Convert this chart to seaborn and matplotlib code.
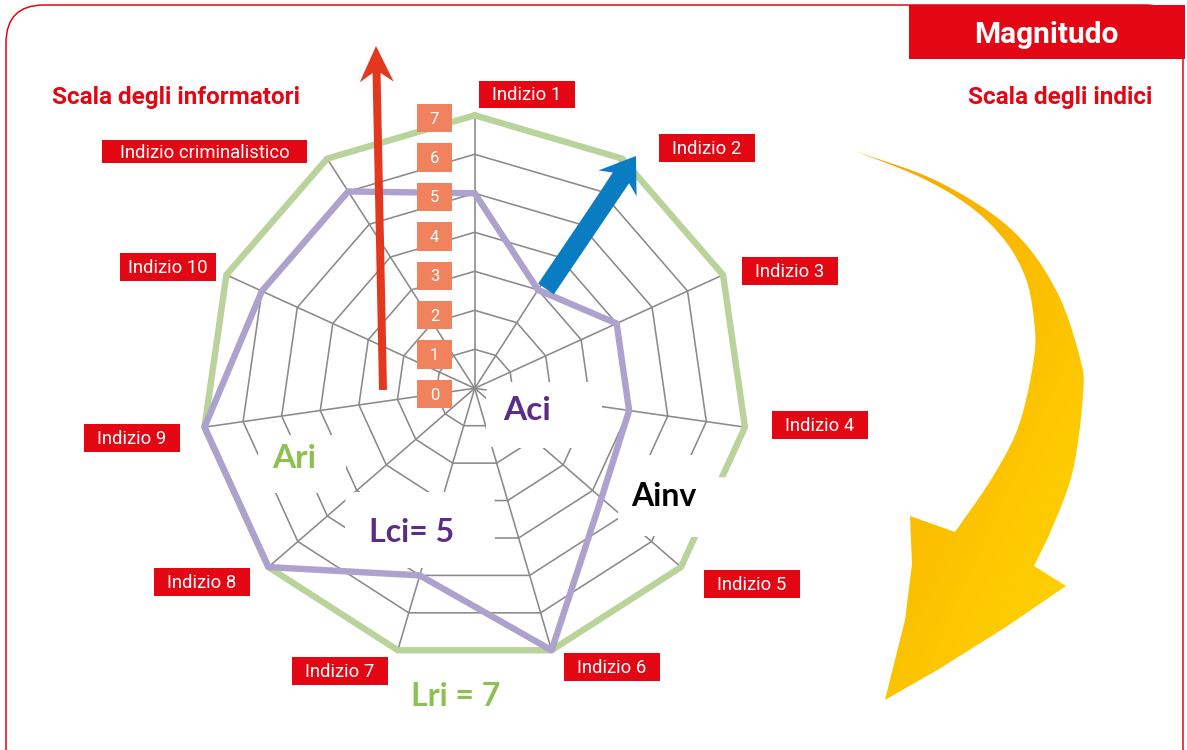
import numpy as np
import matplotlib
matplotlib.use("Agg")
import matplotlib.pyplot as plt
import matplotlib.transforms as mtransforms
from matplotlib.patches import Rectangle, FancyBboxPatch, FancyArrow, Polygon, PathPatch
from matplotlib.path import Path
import seaborn as sns

# ---------------- data ----------------
axes_labels = ["Indizio 1", "Indizio 2", "Indizio 3", "Indizio 4", "Indizio 5",
               "Indizio 6", "Indizio 7", "Indizio 8", "Indizio 9", "Indizio 10",
               "Indizio criminalistico"]
informatori = [5, 3, 4, 4, 4.3, 7, 5, 7, 7, 6, 6]      # purple polygon (Lci)
indici = [7, 7, 7, 7, 7, 7, 7, 7, 7, 7, 7]              # green polygon (Lri)
scale_ticks = [0, 1, 2, 3, 4, 5, 6, 7]
rmax = 7

# ---------------- layout ----------------
W, H = 1187, 750
CX, CY, R = 474.7, 388.3, 273.0

RED = "#E30613"
GREEN_LINE = "#B9D39B"
PURPLE_LINE = "#ADA2CD"
GRID = "#8A8A8A"
SALMON = "#F0825E"
PURPLE_TXT = "#5B2D84"
GREEN_TXT = "#8CC152"

sns.set_theme(style="white")
plt.rcParams["font.family"] = ["Roboto", "DejaVu Sans"]

fig = plt.figure(figsize=(W / 100, H / 100), dpi=100)
fig.patch.set_facecolor("white")

# pixel -> figure transform (y down)
pxT = mtransforms.Affine2D().scale(1 / W, -1 / H).translate(0, 1) + fig.transFigure

# ---------------- radar (polar axes) ----------------
axp = fig.add_axes([(CX - R) / W, 1 - (CY + R) / H, 2 * R / W, 2 * R / H], projection="polar")
axp.set_theta_zero_location("N")
axp.set_theta_direction(-1)
axp.axis("off")

n = len(axes_labels)
theta = np.arange(n) * 2 * np.pi / n
theta_c = np.append(theta, 2 * np.pi)

# web grid
for k in scale_ticks[1:-1]:
    axp.plot(theta_c, [k] * (n + 1), color=GRID, lw=1.15, zorder=1)
for t in theta:
    axp.plot([t, t], [0, rmax], color=GRID, lw=1.15, zorder=1)

# white zones behind the annotations
for (x0, y0, w, h) in [(486, 382, 116, 66), (258, 435, 88, 58), (345, 492, 150, 76)]:
    axp.add_patch(FancyBboxPatch((x0, y0), w, h, boxstyle="round,pad=0,rounding_size=12",
                                 transform=pxT, fc="white", ec="none", zorder=2))
axp.add_patch(Polygon([(618, 455), (716, 455), (731, 477), (703, 536), (618, 536)],
                      closed=True, transform=pxT, fc="white", ec="none", zorder=2))

# polygons
green_r = np.append(indici, indici[0])
purple_r = np.append(informatori, informatori[0])
sns.lineplot(x=theta_c, y=green_r, sort=False, estimator=None, ax=axp,
             color=GREEN_LINE, lw=4.6, zorder=3)
sns.lineplot(x=theta_c, y=purple_r, sort=False, estimator=None, ax=axp,
             color=PURPLE_LINE, lw=4.6, zorder=4)
for ln in axp.lines:
    ln.set_clip_on(False)
# gap in the green outline next to "Ainv"
axp.add_patch(Polygon([(700, 478), (732, 477), (704, 537), (690, 537)],
                      closed=True, transform=pxT, fc="white", ec="none", zorder=3.5,
                      clip_on=False))
axp.set_ylim(0, rmax)
axp.set_xlabel("")
axp.set_ylabel("")

# ---------------- overlay ----------------
axo = fig.add_axes([0, 0, 1, 1])
axo.set_xlim(0, W)
axo.set_ylim(H, 0)
axo.axis("off")


def catmull(pts, steps=12):
    p = np.asarray(pts, float)
    p = np.vstack([p[0] * 2 - p[1], p, p[-1] * 2 - p[-2]])
    out = []
    for i in range(1, len(p) - 2):
        p0, p1, p2, p3 = p[i - 1], p[i], p[i + 1], p[i + 2]
        for s in np.linspace(0, 1, steps, endpoint=False):
            s2, s3 = s * s, s * s * s
            out.append(0.5 * ((2 * p1) + (-p0 + p2) * s + (2 * p0 - 5 * p1 + 4 * p2 - p3) * s2
                              + (-p0 + 3 * p1 - 3 * p2 + p3) * s3))
    out.append(p[-2])
    return np.array(out)


# yellow curved arrow
outer = [(855, 151), (939, 182), (1012, 230), (1056, 290), (1080, 358), (1083, 395),
         (1073, 470), (1053, 526), (1034, 566)]
head = [(1066, 586), (1006, 627), (939, 669), (885, 700), (905, 620), (912, 564), (910, 516)]
inner = [(955, 532), (992, 478), (1019, 425), (1034, 358), (1034, 320), (1026, 279),
         (1006, 242), (972, 208), (922, 178), (855, 151)]
verts = np.vstack([catmull(outer), np.array(head), catmull(inner)])
arrow_patch = PathPatch(Path(verts), fc="none", ec="none")
axo.add_patch(arrow_patch)
gx, gy = np.meshgrid(np.linspace(0, 1, 200), np.linspace(0, 1, 200))
g = np.clip((gx * 0.6 + gy * 0.6), 0, 1)[..., None]
c0 = np.array([0.96, 0.64, 0.0])
c1 = np.array([1.0, 0.82, 0.0])
img = c0 * (1 - g) + c1 * g
im = axo.imshow(img, extent=(840, 1100, 710, 140), zorder=2, interpolation="bilinear")
im.set_clip_path(arrow_patch)
axo.set_xlim(0, W)
axo.set_ylim(H, 0)
axo.set_aspect("auto")

# frame
axo.add_patch(FancyBboxPatch((6, 5), 1177, 900, boxstyle="round,pad=0,rounding_size=38",
                             fill=False, ec=RED, lw=1.1, zorder=1))
axo.add_patch(Rectangle((909, 5), 276, 54, fc=RED, ec="none", zorder=3))
axo.text(1046, 43, "Magnitudo", color="white", fontsize=21.5, fontweight="bold",
         ha="center", va="baseline", zorder=4)

axo.text(52, 104, "Scala degli informatori", color=RED, fontsize=17.5, fontweight="bold",
         ha="left", va="baseline")
axo.text(968, 104, "Scala degli indici", color=RED, fontsize=17.5, fontweight="bold",
         ha="left", va="baseline")

# arrows
axo.add_patch(FancyArrow(383, 390, -7, -344, width=8, head_width=34, head_length=36,
                         overhang=0.25, length_includes_head=True, fc="#E3371E", ec="none",
                         zorder=5))
axo.add_patch(FancyArrow(546, 289, 90, -133, width=19, head_width=46, head_length=33,
                         overhang=0.2, length_includes_head=True, fc="#0A7DC2", ec="none",
                         zorder=5))

# scale boxes
for k in scale_ticks:
    yc = 394 - 39.4 * k
    axo.add_patch(Rectangle((417, yc - 14.2), 35, 28.4, fc=SALMON, ec="none", zorder=6))
    axo.text(434.5, yc + 1, str(k), color="white", fontsize=12, ha="center", va="center",
             zorder=7)

# index label boxes
label_boxes = {
    "Indizio 1": (479, 81, 96, 27),
    "Indizio 2": (659, 134, 96, 28),
    "Indizio 3": (742, 257, 96, 28),
    "Indizio 4": (772, 411, 96, 28),
    "Indizio 5": (704, 570, 96, 28),
    "Indizio 6": (564, 653, 96, 28),
    "Indizio 7": (292, 657, 96, 28),
    "Indizio 8": (154, 568, 96, 28),
    "Indizio 9": (84, 424, 96, 28),
    "Indizio 10": (120, 253, 96, 28),
    "Indizio criminalistico": (102, 140, 205, 23),
}
for name in axes_labels:
    x0, y0, w, h = label_boxes[name]
    axo.add_patch(Rectangle((x0, y0), w, h, fc=RED, ec="none", zorder=6))
    axo.text(x0 + w / 2, y0 + h / 2 + 1, name, color="white", fontsize=13.3,
             ha="center", va="center", zorder=7)

# annotations
bold = dict(fontweight="bold", family=["Lato", "DejaVu Sans"], ha="center", va="center",
            zorder=7)
axo.text(527, 410, "Aci", color=PURPLE_TXT, fontsize=24, **bold)
axo.text(294, 459, "Ari", color=GREEN_TXT, fontsize=24, **bold)
axo.text(412, 532, "Lci= 5", color=PURPLE_TXT, fontsize=23, **bold)
axo.text(664, 497, "Ainv", color="black", fontsize=23, **bold)
axo.text(456, 697, "Lri = 7", color=GREEN_TXT, fontsize=23, **bold)

fig.savefig("out.png", dpi=100, facecolor="white")
